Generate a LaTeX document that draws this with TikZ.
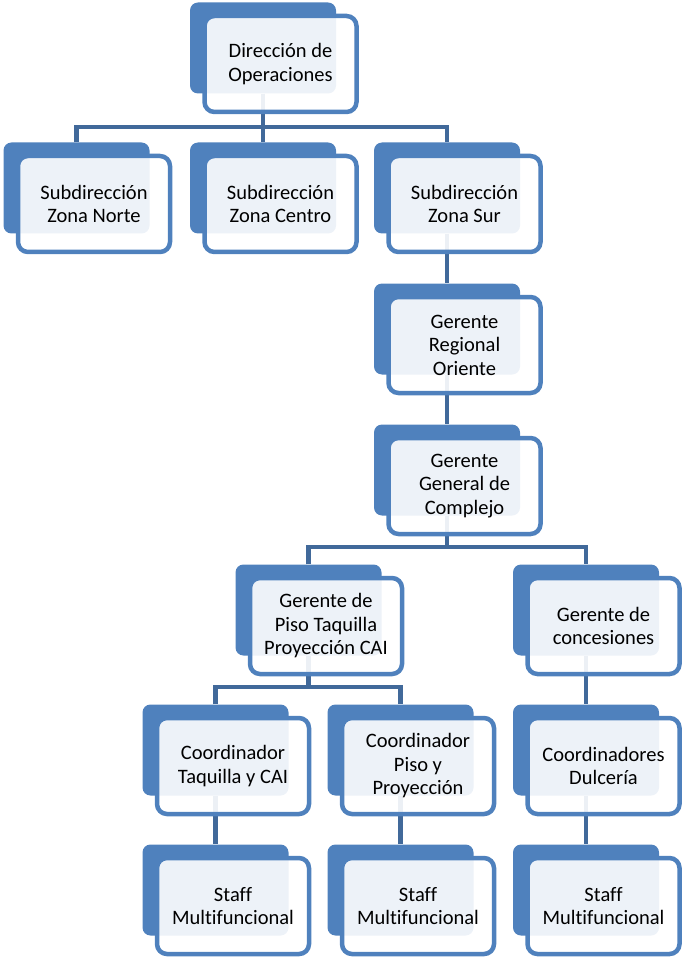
\documentclass[tikz,border=0pt]{standalone}
\usepackage{fontspec}
\setmainfont[Ligatures=CommonOff]{Carlito}
\usetikzlibrary{calc, backgrounds}

\definecolor{azul}{HTML}{4F81BD}
\definecolor{linea}{HTML}{41699A}

\tikzset{
	fondo/.style={fill=azul, rounded corners=8pt, minimum width=146pt, minimum height=91pt, inner sep=0pt},
	frente/.style={draw=azul, line width=4.5pt, fill=white, fill opacity=0.9, text opacity=1,
		rounded corners=10pt, minimum width=152pt, minimum height=96pt, inner sep=0pt,
		align=center, font=\fontsize{20.5}{23.5}\selectfont},
	enlace/.style={draw=linea, line width=4.5pt}
}

\begin{document}
\begin{tikzpicture}[x=1pt, y=-1pt]
		\useasboundingbox (0,0) rectangle (681,957);

		\node[fondo] (dir) at (263,48) {};
		\node[frente] at ($(dir) + (17.5,16)$) (tdir) {Dirección de\\Operaciones};

		\node[fondo] (norte) at (76.5,188) {};
		\node[frente] at ($(norte) + (17.5,16)$) (tnorte) {Subdirección\\Zona Norte};
		\node[fondo] (centro) at (263,188) {};
		\node[frente] at ($(centro) + (17.5,16)$) (tcentro) {Subdirección\\Zona Centro};
		\node[fondo] (sur) at (447,188) {};
		\node[frente] at ($(sur) + (17.5,16)$) (tsur) {Subdirección\\Zona Sur};

		\node[fondo] (regional) at (447,329) {};
		\node[frente] at ($(regional) + (17.5,16)$) (tregional) {Gerente\\Regional\\Oriente};
		\node[fondo] (general) at (447,470) {};
		\node[frente] at ($(general) + (17.5,16)$) (tgeneral) {Gerente\\General de\\Complejo};

		\node[fondo] (piso) at (308.5,610) {};
		\node[frente] at ($(piso) + (17.5,16)$) (tpiso) {Gerente de\\Piso Taquilla\\Proyección CAI};
		\node[fondo] (concesiones) at (586,610) {};
		\node[frente] at ($(concesiones) + (17.5,16)$) (tconcesiones) {Gerente de\\concesiones};

		\node[fondo] (taquilla) at (215.5,750) {};
		\node[frente] at ($(taquilla) + (17.5,16)$) (ttaquilla) {Coordinador\\Taquilla y CAI};
		\node[fondo] (proyeccion) at (400.5,750) {};
		\node[frente] at ($(proyeccion) + (17.5,16)$) (tproyeccion) {Coordinador\\Piso y\\Proyección};
		\node[fondo] (dulceria) at (586,750) {};
		\node[frente] at ($(dulceria) + (17.5,16)$) (tdulceria) {Coordinadores\\Dulcería};

		\node[fondo] (staffa) at (215.5,890) {};
		\node[frente] at ($(staffa) + (17.5,16)$) (tstaffa) {Staff\\Multifuncional};
		\node[fondo] (staffb) at (400.5,890) {};
		\node[frente] at ($(staffb) + (17.5,16)$) (tstaffb) {Staff\\Multifuncional};
		\node[fondo] (staffc) at (586,890) {};
		\node[frente] at ($(staffc) + (17.5,16)$) (tstaffc) {Staff\\Multifuncional};

		% lineas de mando, detras de las cajas
		\begin{scope}[on background layer]
			\coordinate (b1) at (0,127);
			\coordinate (b2) at (0,547);
			\coordinate (b3) at (0,687);
			\draw[enlace] (norte) |- (b1 -| sur) -- (sur);
			\draw[enlace] (dir) -- (centro);
			\draw[enlace] (sur) -- (regional) -- (general);
			\draw[enlace] (general) -- (general |- b2);
			\draw[enlace] (piso) |- (b2 -| concesiones) -- (concesiones);
			\draw[enlace] (piso) -- (piso |- b3);
			\draw[enlace] (taquilla) |- (b3 -| proyeccion) -- (proyeccion);
			\draw[enlace] (taquilla) -- (staffa);
			\draw[enlace] (proyeccion) -- (staffb);
			\draw[enlace] (concesiones) -- (dulceria) -- (staffc);
		\end{scope}
	\end{tikzpicture}
\end{document}
